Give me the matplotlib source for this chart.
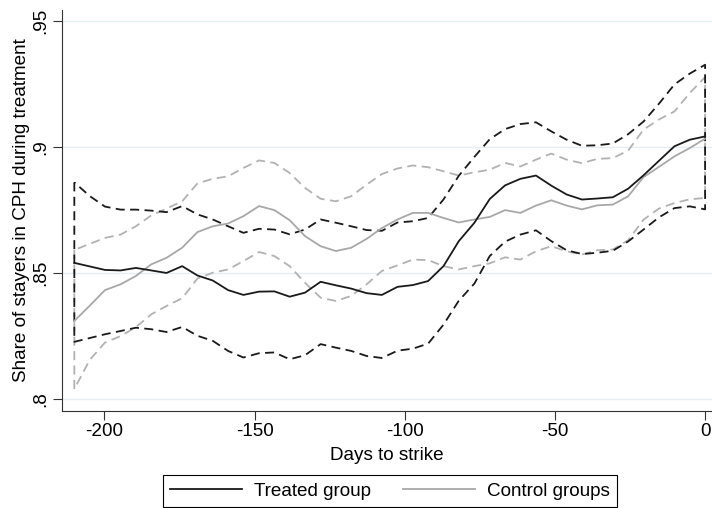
import matplotlib.pyplot as plt
from matplotlib.lines import Line2D

plt.rcParams['font.family'] = ['Liberation Sans', 'DejaVu Sans']

# 42 evaluation points between -210 and 0 days
days = [-210.0, -204.9, -199.8, -194.6, -189.5, -184.4, -179.3, -174.1, -169.0, -163.9,
        -158.8, -153.7, -148.5, -143.4, -138.3, -133.2, -128.0, -122.9, -117.8, -112.7,
        -107.6, -102.4, -97.3, -92.2, -87.1, -82.0, -76.8, -71.7, -66.6, -61.5,
        -56.3, -51.2, -46.1, -41.0, -35.9, -30.7, -25.6, -20.5, -15.4, -10.2,
        -5.1, 0.0]

treated = [.854, .8526, .8512, .851, .852, .851, .850, .8527, .849, .847,
           .8432, .8413, .8426, .8427, .8406, .8422, .8465, .8451, .8438, .842,
           .8413, .8445, .8452, .8468, .8527, .8626, .8699, .8793, .8847, .8873,
           .8886, .8846, .8811, .8791, .8795, .880, .8834, .8887, .8944, .9002,
           .9028, .9041]
treated_hi = [.8859, .8805, .8763, .8751, .8751, .8747, .8741, .8765, .8732, .8712,
              .8685, .8659, .8675, .8672, .8653, .8672, .8712, .8699, .8685, .867,
              .8667, .870, .8705, .8718, .8791, .8885, .896, .903, .907, .909,
              .9097, .9061, .9028, .9004, .9006, .9013, .905, .910, .917, .9247,
              .929, .9325]
treated_lo = [.8227, .8242, .8257, .827, .8283, .8277, .8266, .8286, .8251, .8231,
              .8191, .8165, .8182, .8185, .8158, .8174, .8218, .8204, .8191, .8171,
              .8163, .8192, .820, .822, .8295, .839, .8458, .8567, .8624, .8652,
              .8669, .8626, .859, .8575, .858, .8588, .8625, .8672, .872, .8757,
              .8764, .8752]

control = [.831, .837, .8432, .8455, .8488, .8534, .856, .860, .8662, .8685,
           .8696, .8725, .8765, .8749, .8709, .8646, .8606, .8587, .860, .8635,
           .8678, .8712, .8738, .8738, .8718, .870, .8712, .8722, .8749, .8738,
           .8767, .8788, .8767, .8752, .8768, .8771, .8804, .888, .892, .8962,
           .8995, .9032]
control_hi = [.8591, .8615, .8639, .8652, .8685, .8728, .8755, .8784, .8855, .8873,
              .8883, .8916, .8946, .8936, .8896, .8837, .8794, .8784, .8804, .885,
              .8892, .8914, .8926, .8919, .8903, .8886, .8899, .8909, .8936, .8922,
              .8949, .8973, .8949, .8935, .8952, .8955, .8985, .9068, .9108, .914,
              .9213, .9276]
control_lo = [.804, .8155, .8224, .825, .8285, .8336, .8369, .840, .8478, .8501,
              .8514, .8547, .8583, .8567, .8527, .8461, .8402, .8389, .8409, .8455,
              .8508, .853, .8553, .8551, .8527, .8514, .8527, .8538, .8562, .8553,
              .8586, .8606, .8586, .8573, .859, .8593, .863, .8711, .8755, .8777,
              .8792, .8797]

xticks = [-200, -150, -100, -50, 0]
yticks = [.8, .85, .9, .95]
ytick_labels = ['.8', '.85', '.9', '.95']

black = '#1a1a1a'
gray = '#a8a8a8'
gray_ci = '#b2b2b2'
dash = (0, (5, 3))
fs = 13.6

fig = plt.figure(figsize=(7.12, 5.08), dpi=100)
ax = fig.add_axes([62 / 712, 97 / 508, 650 / 712, 401 / 508])

# confidence bands drawn as dashed outlines (closed at both ends)
ax.fill_between(days, control_lo, control_hi, facecolor='none',
                edgecolor=gray_ci, linestyle=dash, linewidth=1.3)
ax.plot(days, control, color=gray, lw=1.3)
ax.fill_between(days, treated_lo, treated_hi, facecolor='none',
                edgecolor=black, linestyle=dash, linewidth=1.3)
ax.plot(days, treated, color=black, lw=1.3)

ax.set_xlim(-214.1, 2.3)
ax.set_ylim(.7953, .9542)
ax.set_xticks(xticks)
ax.set_xticklabels([str(t) for t in xticks])
ax.set_yticks(yticks)
ax.set_yticklabels(ytick_labels)
ax.tick_params(axis='both', labelsize=fs, length=6.5, width=0.8, color='#333333',
               pad=2.5)
ax.tick_params(axis='y', labelrotation=90)
for lab in ax.get_yticklabels():
    lab.set_va('center')

ax.grid(axis='y', color='#e4edf0', lw=1)
ax.set_axisbelow(True)
for s in ['top', 'right']:
    ax.spines[s].set_visible(False)
for s in ['left', 'bottom']:
    ax.spines[s].set_linewidth(0.8)
    ax.spines[s].set_color('#333333')

ax.set_xlabel('Days to strike', fontsize=fs, labelpad=4.5)
ax.set_ylabel('Share of stayers in CPH during treatment', fontsize=fs, labelpad=2)

handles = [Line2D([], [], color=black, lw=1.3), Line2D([], [], color=gray, lw=1.3)]
leg = fig.legend(handles, ['Treated group', 'Control groups'], loc='upper center',
                 bbox_to_anchor=(390 / 712, 1 - 475 / 508), ncol=2, fontsize=fs,
                 frameon=True, fancybox=False, edgecolor='black', framealpha=1,
                 handlelength=3.8, columnspacing=1.7, handletextpad=0.63,
                 borderpad=0.4, borderaxespad=0)
leg.get_frame().set_linewidth(0.8)

fig.savefig('out.png', dpi=100)
